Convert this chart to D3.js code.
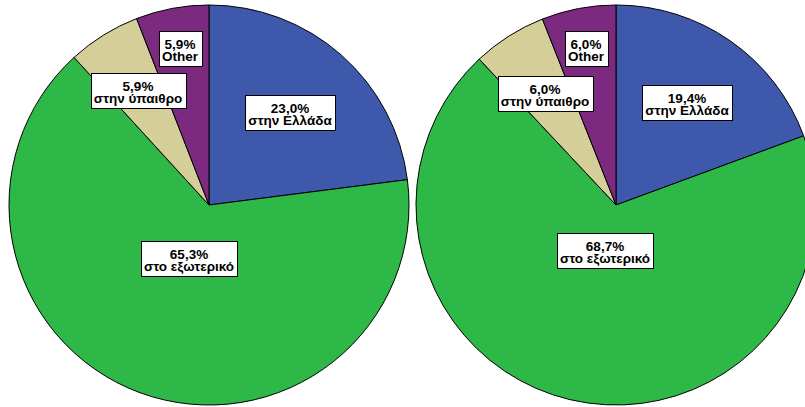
<!DOCTYPE html>
<html><head><meta charset="utf-8">
<script src="https://cdn.jsdelivr.net/npm/d3@7"></script>
<style>html,body{margin:0;padding:0;background:#fff;overflow:hidden}</style>
</head><body>
<script>
const categories = ["στην Ελλάδα", "στο εξωτερικό", "στην ύπαιθρο", "Other"];
const valuesLeft = [23.0, 65.3, 5.9, 5.9];
const valuesRight = [19.4, 68.7, 6.0, 6.0];
const colors = ["#3E58AC", "#2EB848", "#D4CE98", "#7C2A7F"];
// label distance from centre, as a fraction of radius (layout)
const labelFracLeft = [0.615, 0.285, 0.67, 0.795];
const labelFracRight = [0.62, 0.235, 0.66, 0.795];

const W = 805, H = 407, R = 200;
const svg = d3.select("body").append("svg").attr("width", W).attr("height", H);

function drawPie(values, fracs, cx, cy) {
  const data = categories.map((c, i) => ({cat: c, v: values[i], i}));
  const pie = d3.pie().sort(null).value(d => d.v);
  const arcs = pie(data);
  const g = svg.append("g").attr("transform", `translate(${cx},${cy})`);
  const arc = d3.arc().innerRadius(0).outerRadius(R);
  g.selectAll("path").data(arcs).join("path")
    .attr("d", arc).attr("fill", d => colors[d.data.i])
    .attr("stroke", "#000").attr("stroke-width", 1).attr("stroke-linejoin", "round");
  arcs.forEach(a => {
    const mid = (a.startAngle + a.endAngle) / 2;
    const r = fracs[a.data.i] * R;
    const x = Math.round(Math.sin(mid) * r), y = Math.round(-Math.cos(mid) * r);
    const lg = g.append("g").attr("transform", `translate(${x},${y})`);
    const t1 = a.data.v.toFixed(1).replace(".", ",") + "%";
    const rect = lg.append("rect").attr("fill", "#fff").attr("stroke", "#000").attr("stroke-width", 1);
    const txt = lg.append("text").attr("text-anchor", "middle")
      .attr("font-family", "Liberation Sans, Arial, sans-serif").attr("font-weight", "bold")
      .attr("font-size", "13.5px").attr("fill", "#000");
    txt.append("tspan").attr("x", 0).attr("y", -0.5).text(t1);
    txt.append("tspan").attr("x", 0).attr("y", 11.5).text(a.data.cat);
    const bb = txt.node().getBBox();
    const w = Math.round(bb.width + 6), h = 35;
    rect.attr("x", Math.round(-w / 2) + 0.5).attr("y", -17.5).attr("width", w).attr("height", h);
  });
}
drawPie(valuesLeft, labelFracLeft, 209, 205);
drawPie(valuesRight, labelFracRight, 616, 205);
</script>
</body></html>
